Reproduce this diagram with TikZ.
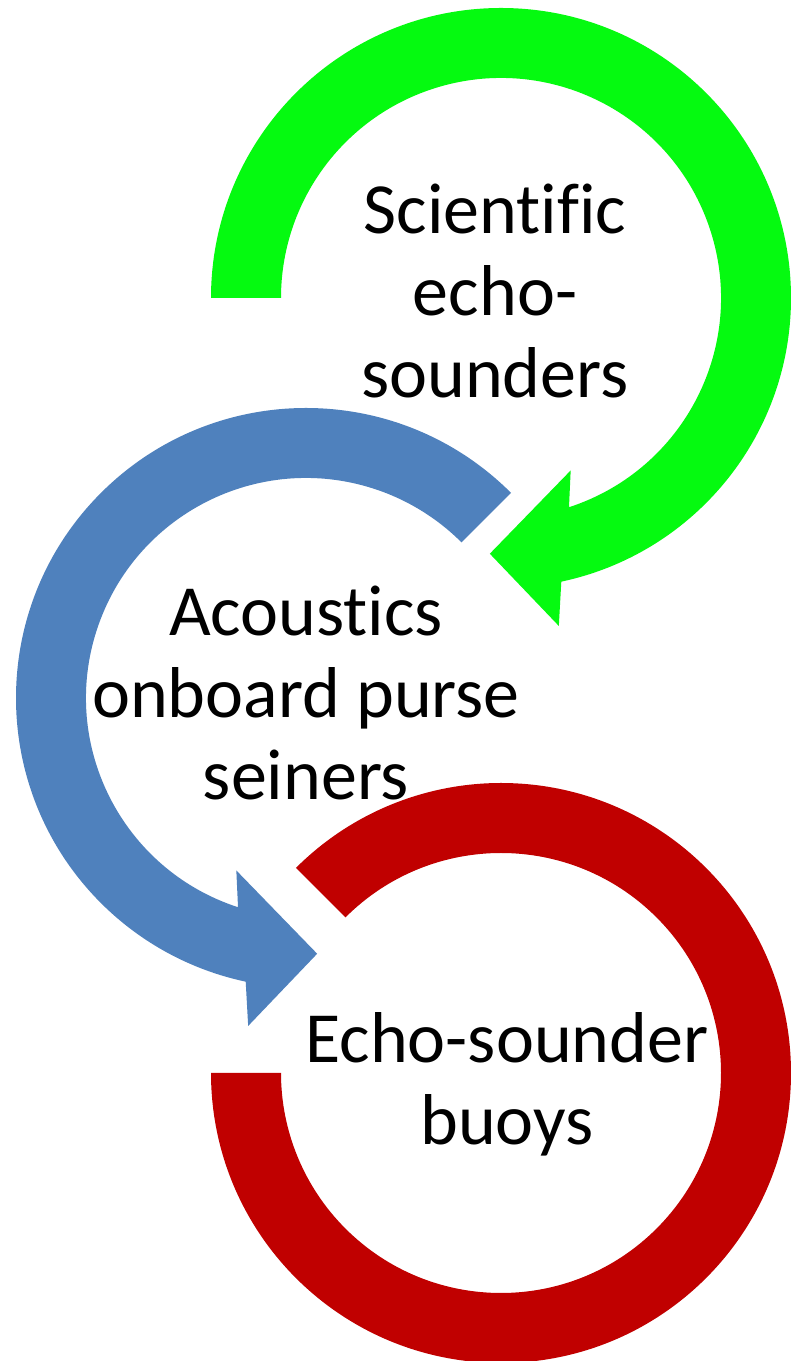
\documentclass[tikz,border=0pt]{standalone}
\usepackage{fontspec}
\setmainfont[Ligatures=NoCommon]{Carlito}
\usetikzlibrary{calc}
\definecolor{ringgreen}{RGB}{5,250,16}
\definecolor{ringblue}{RGB}{79,129,189}
\definecolor{ringred}{RGB}{192,0,0}
\begin{document}
\begin{tikzpicture}[x=1pt,y=1pt,
  txt/.style={align=center, font=\fontsize{72}{82}\selectfont, text=black, inner sep=0pt}]
\useasboundingbox (0,0) rectangle (791,1361);
\fill[white] (0,0) rectangle (791,1361);
\coordinate (G) at (501,1063);
\coordinate (B) at (306,663);
\coordinate (R) at (501,288);
% green circular arrow (clockwise)
\fill[ringgreen] ($(G)+(180:290)$) arc[start angle=180,end angle=-78,radius=290]
  -- ($(G)+(-80:333)$) -- ($(G)+(-92.5:256)$) -- ($(G)+(-68:186)$)
  -- ($(G)+(-72:220)$) arc[start angle=-72,end angle=180,radius=220] -- cycle;
% blue circular arrow (counter-clockwise)
\fill[ringblue] ($(B)+(45:290)$) arc[start angle=45,end angle=258,radius=290]
  -- ($(B)+(260:333)$) -- ($(B)+(272.5:256)$) -- ($(B)+(248:186)$)
  -- ($(B)+(252:220)$) arc[start angle=252,end angle=45,radius=220] -- cycle;
% red open ring
\fill[ringred] ($(R)+(180:290)$) arc[start angle=180,end angle=495,radius=290]
  -- ($(R)+(135:220)$) arc[start angle=495,end angle=180,radius=220] -- cycle;
% labels
\node[txt] (sci) at (495,1070) {Scientific\\echo-\\sounders};
\node[txt] (aco) at (306,668) {Acoustics\\onboard purse\\seiners};
\node[txt] (ech) at (507,277) {Echo-sounder\\buoys};
\end{tikzpicture}
\end{document}
